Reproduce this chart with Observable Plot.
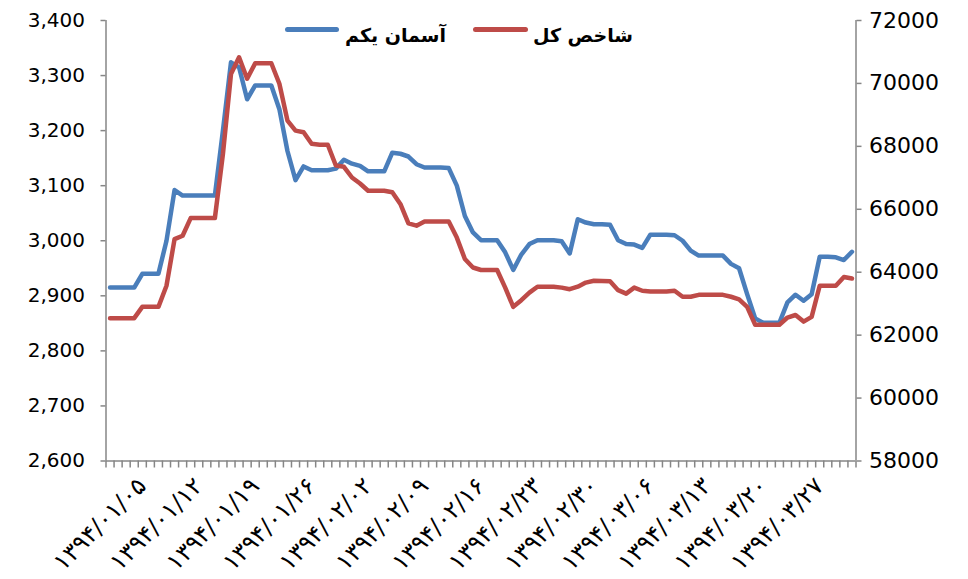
<!DOCTYPE html>
<html>
<head>
<meta charset="utf-8">
<script src="https://cdn.jsdelivr.net/npm/d3@7"></script>
<script src="https://cdn.jsdelivr.net/npm/@observablehq/plot@0.6"></script>
<style>
  html, body { margin: 0; padding: 0; background: #fff; }
  #wrap { position: relative; width: 968px; height: 579px; overflow: hidden; }
  .lg-line { position: absolute; height: 4.5px; border-radius: 3px; }
  .lg-text { position: absolute; font-family: "DejaVu Sans", sans-serif; font-weight: bold; font-size: 19px; line-height: 24px; white-space: nowrap; direction: rtl; color: #000; }
</style>
</head>
<body>
<div id="wrap">
  <div class="lg-line" style="left:285px; top:27px; width:54px; background:#4a7ebb;"></div>
  <div class="lg-text" style="left:345px; top:23px;">آسمان یکم</div>
  <div class="lg-line" style="left:473px; top:27px; width:55px; background:#be4b48;"></div>
  <div class="lg-text" style="left:533px; top:23px;">شاخص کل</div>
</div>
<script>
// Categories: daily dates 1394/01/01 .. 1394/03/31 (index 0..92)
const months = ["01", "02", "03"];
const daysInMonth = 31;
const toFa = s => s.replace(/\d/g, c => "۰۱۲۳۴۵۶۷۸۹"[+c]);
const dates = [];
for (const m of months) for (let d = 1; d <= daysInMonth; d++) dates.push(toFa(`1394/${m}/${String(d).padStart(2, "0")}`));

// Labelled ticks (every 7th day)
const tickIndex = [4, 11, 18, 25, 32, 39, 46, 53, 60, 67, 74, 81, 88];
const tickLabels = ["۱۳۹۴/۰۱/۰۵", "۱۳۹۴/۰۱/۱۲", "۱۳۹۴/۰۱/۱۹", "۱۳۹۴/۰۱/۲۶", "۱۳۹۴/۰۲/۰۲", "۱۳۹۴/۰۲/۰۹", "۱۳۹۴/۰۲/۱۶", "۱۳۹۴/۰۲/۲۳", "۱۳۹۴/۰۲/۳۰", "۱۳۹۴/۰۳/۰۶", "۱۳۹۴/۰۳/۱۳", "۱۳۹۴/۰۳/۲۰", "۱۳۹۴/۰۳/۲۷"];

// Series 1: آسمان یکم (left axis)
const asemanYekom = [
  2915, 2915, 2915, 2915, 2940, 2940, 2940, 3000, 3092, 3082,
  3082, 3082, 3082, 3082, 3200, 3324, 3315, 3257, 3282, 3282,
  3282, 3239, 3163, 3110, 3135, 3128, 3128, 3128, 3131, 3147,
  3140, 3136, 3126, 3126, 3126, 3160, 3158, 3153, 3139, 3133,
  3133, 3133, 3132, 3100, 3045, 3015, 3001, 3001, 3001, 2979,
  2947, 2975, 2994, 3001, 3001, 3001, 2999, 2977, 3039, 3033,
  3030, 3030, 3029, 3001, 2994, 2993, 2987, 3011, 3011, 3011,
  3010, 3000, 2982, 2973, 2973, 2973, 2973, 2958, 2950, 2903,
  2859, 2851, 2851, 2851, 2888, 2902, 2891, 2903, 2971, 2971,
  2970, 2965, 2980
];

// Series 2: شاخص کل (right axis)
const shakhesKol = [
  62540, 62540, 62540, 62540, 62900, 62900, 62900, 63570, 65050, 65160,
  65720, 65720, 65720, 65720, 67760, 70300, 70830, 70150, 70640, 70640,
  70640, 69990, 68820, 68500, 68450, 68080, 68050, 68050, 67390, 67350,
  67010, 66820, 66590, 66590, 66590, 66540, 66170, 65550, 65480, 65610,
  65610, 65610, 65610, 65100, 64420, 64150, 64070, 64070, 64070, 63510,
  62900, 63110, 63350, 63540, 63540, 63540, 63510, 63460, 63540, 63670,
  63730, 63720, 63710, 63430, 63320, 63510, 63410, 63390, 63390, 63390,
  63410, 63220, 63220, 63280, 63280, 63280, 63280, 63220, 63140, 62900,
  62330, 62330, 62330, 62330, 62560, 62640, 62430, 62580, 63570, 63570,
  63570, 63850, 63800
];

const leftTicks = [2600, 2700, 2800, 2900, 3000, 3100, 3200, 3300, 3400];
const rightTicks = [58000, 60000, 62000, 64000, 66000, 68000, 70000, 72000];

// map right-axis values onto the left scale
const r2l = d3.scaleLinear().domain([58000, 72000]).range([2600, 3400]);
const l2r = r2l.invert;

const axisGray = "#868686";
const n = dates.length;

const chart = Plot.plot({
  width: 968,
  height: 579,
  marginLeft: 105.5,
  marginRight: 112.5,
  marginTop: 20,
  marginBottom: 118.5,
  style: { fontFamily: "DejaVu Sans, sans-serif", background: "transparent", overflow: "visible" },
  x: { type: "linear", domain: [-0.5, n - 0.5], axis: null },
  y: { domain: [2600, 3400], axis: null },
  marks: [
    // axis lines
    Plot.ruleY([2600], { stroke: axisGray, strokeWidth: 1.5 }),
    Plot.ruleX([-0.5], { stroke: axisGray, strokeWidth: 1.5 }),
    Plot.ruleX([n - 0.5], { stroke: axisGray, strokeWidth: 1.5 }),
    // left axis
    Plot.axisY({ anchor: "left", ticks: leftTicks, tickFormat: d3.format(","), tickSize: 5, tickPadding: 16, fontSize: 20, stroke: axisGray, fill: "#000", strokeWidth: 1.5 }),
    // right axis
    Plot.axisY({ anchor: "right", ticks: rightTicks.map(r2l), tickFormat: d => String(Math.round(l2r(d))), tickSize: 5, tickPadding: 8, fontSize: 22, stroke: axisGray, fill: "#000", strokeWidth: 1.5 }),
    // x tick marks at category boundaries
    Plot.axisX({ anchor: "bottom", ticks: d3.range(-0.5, n, 1), tickFormat: () => "", tickSize: 7, stroke: axisGray, strokeWidth: 1.5 }),
    // x labels
    Plot.axisX({ anchor: "bottom", ticks: tickIndex, tickFormat: d => tickLabels[tickIndex.indexOf(d)], tickSize: 0, tickPadding: 21, tickRotate: -45, fontSize: 24, fill: "#000" }),
    // series
    Plot.lineY(asemanYekom, { x: (d, i) => i, y: d => d, stroke: "#4a7ebb", strokeWidth: 4.5, strokeLinejoin: "round", strokeLinecap: "round" }),
    Plot.lineY(shakhesKol, { x: (d, i) => i, y: d => r2l(d), stroke: "#be4b48", strokeWidth: 4.5, strokeLinejoin: "round", strokeLinecap: "round" })
  ]
});
chart.style.position = "absolute";
chart.style.left = "0px";
chart.style.top = "0px";
const wrap = document.getElementById("wrap");
wrap.insertBefore(chart, wrap.firstChild);
</script>
</body>
</html>
